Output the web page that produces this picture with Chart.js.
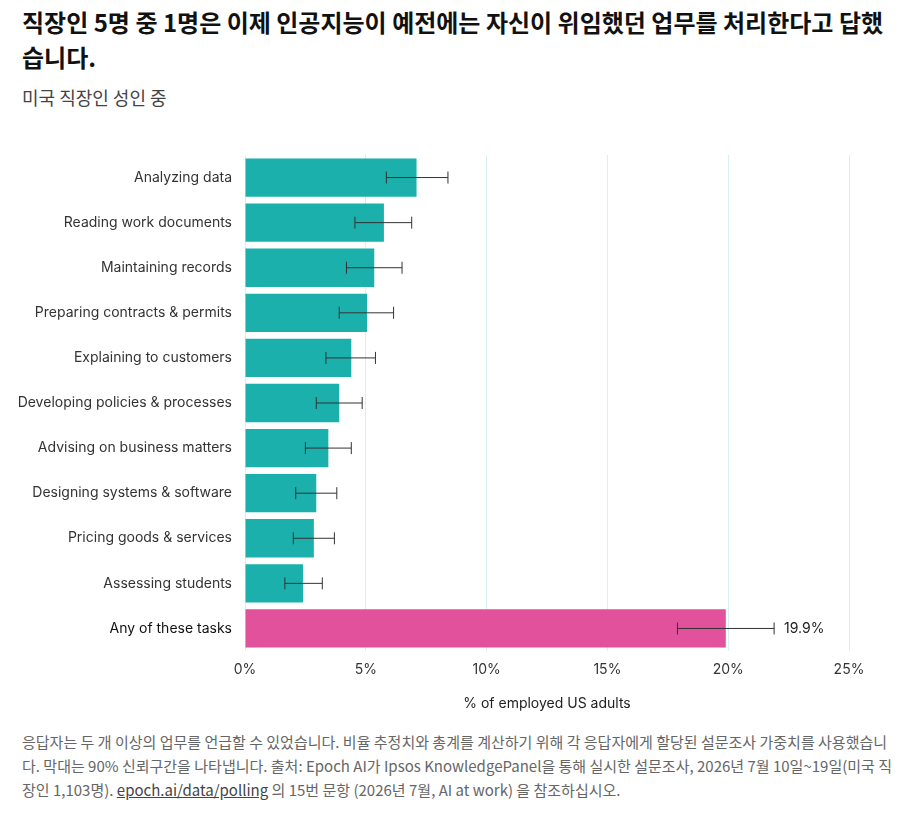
<!DOCTYPE html>
<html><head><meta charset="utf-8">
<script src="https://cdn.jsdelivr.net/npm/chart.js@4"></script>
<style>
body{margin:0;width:903px;height:828px;background:#fff;font-family:"Noto Sans CJK KR","Inter",sans-serif;position:relative;overflow:hidden}
h1{position:absolute;left:22px;top:4px;margin:0;font-size:24px;line-height:35px;font-weight:700;color:#111;width:870px}
.sub{position:absolute;left:22px;top:84px;font-size:18px;color:#444}
.wrap{position:absolute;left:0;top:140px;width:903px;height:576px}
.note{position:absolute;left:22px;top:730px;width:870px;font-size:15px;line-height:24px;color:#666}
.note u{color:#444}
</style></head><body>
<h1>직장인 5명 중 1명은 이제 인공지능이 예전에는 자신이 위임했던 업무를 처리한다고 답했습니다.</h1>
<div class="sub">미국 직장인 성인 중</div>
<div class="wrap"><canvas id="c"></canvas></div>
<div class="note">응답자는 두 개 이상의 업무를 언급할 수 있었습니다. 비율 추정치와 총계를 계산하기 위해 각 응답자에게 할당된 설문조사 가중치를 사용했습니다. 막대는 90% 신뢰구간을 나타냅니다. 출처: Epoch AI가 Ipsos KnowledgePanel을 통해 실시한 설문조사, 2026년 7월 10일~19일(미국 직장인 1,103명). <u>epoch.ai/data/polling</u> 의 15번 문항 (2026년 7월, AI at work) 을 참조하십시오.</div>
<script>
const categories = ['Analyzing data','Reading work documents','Maintaining records','Preparing contracts & permits','Explaining to customers','Developing policies & processes','Advising on business matters','Designing systems & software','Pricing goods & services','Assessing students','Any of these tasks'];
const values = [7.1,5.75,5.35,5.05,4.4,3.9,3.45,2.95,2.85,2.4,19.9];
const lowCI = [5.85,4.55,4.2,3.9,3.35,2.95,2.5,2.1,2.0,1.65,17.9];
const highCI = [8.4,6.9,6.5,6.15,5.4,4.85,4.4,3.8,3.7,3.2,21.9];
const xTicks = [0,5,10,15,20,25];

const errPlugin = {
  id: 'err',
  afterDatasetsDraw(chart) {
    const ctx = chart.ctx, xs = chart.scales.x, meta = chart.getDatasetMeta(0);
    ctx.save();
    ctx.strokeStyle = '#333'; ctx.lineWidth = 1;
    meta.data.forEach((bar, i) => {
      const y = bar.y, a = xs.getPixelForValue(lowCI[i]), b = xs.getPixelForValue(highCI[i]);
      ctx.beginPath();
      ctx.moveTo(a, y); ctx.lineTo(b, y);
      ctx.moveTo(a, y - 6); ctx.lineTo(a, y + 6);
      ctx.moveTo(b, y - 6); ctx.lineTo(b, y + 6);
      ctx.stroke();
    });
    const last = meta.data.length - 1;
    ctx.fillStyle = '#222'; ctx.font = '14px Inter'; ctx.textBaseline = 'middle';
    ctx.fillText(values[last].toFixed(1) + '%', xs.getPixelForValue(highCI[last]) + 10, meta.data[last].y);
    ctx.restore();
  }
};

new Chart(document.getElementById('c'), {
  type: 'bar',
  data: { labels: categories, datasets: [{
    data: values,
    backgroundColor: values.map((v, i) => i === values.length - 1 ? '#E2519B' : '#1BB0AC'),
    barPercentage: 0.85, categoryPercentage: 1
  }]},
  options: {
    indexAxis: 'y', responsive: true, maintainAspectRatio: false, animation: false,
    layout: { padding: { top: 15, right: 54, left: 0, bottom: 0 } },
    plugins: { legend: { display: false }, tooltip: { enabled: false } },
    scales: {
      x: {
        min: 0, max: 25,
        afterBuildTicks: s => { s.ticks = xTicks.map(v => ({ value: v })); },
        afterFit: s => { s.height = 65; },
        grid: { color: '#d9efee', drawTicks: false },
        border: { display: false },
        ticks: { color: '#333', font: { size: 14, family: 'Inter' }, padding: 10, callback: v => v + '%' },
        title: { display: true, text: '% of employed US adults', color: '#222', font: { size: 14, family: 'Inter' }, padding: { top: 8 } }
      },
      y: {
        afterFit: s => { s.width = 245; },
        grid: { display: false }, border: { display: false },
        ticks: { color: c => c.index === categories.length - 1 ? '#111' : '#333', font: { size: 14, family: 'Inter' }, padding: 5 }
      }
    }
  },
  plugins: [errPlugin]
});
</script>
</body></html>
